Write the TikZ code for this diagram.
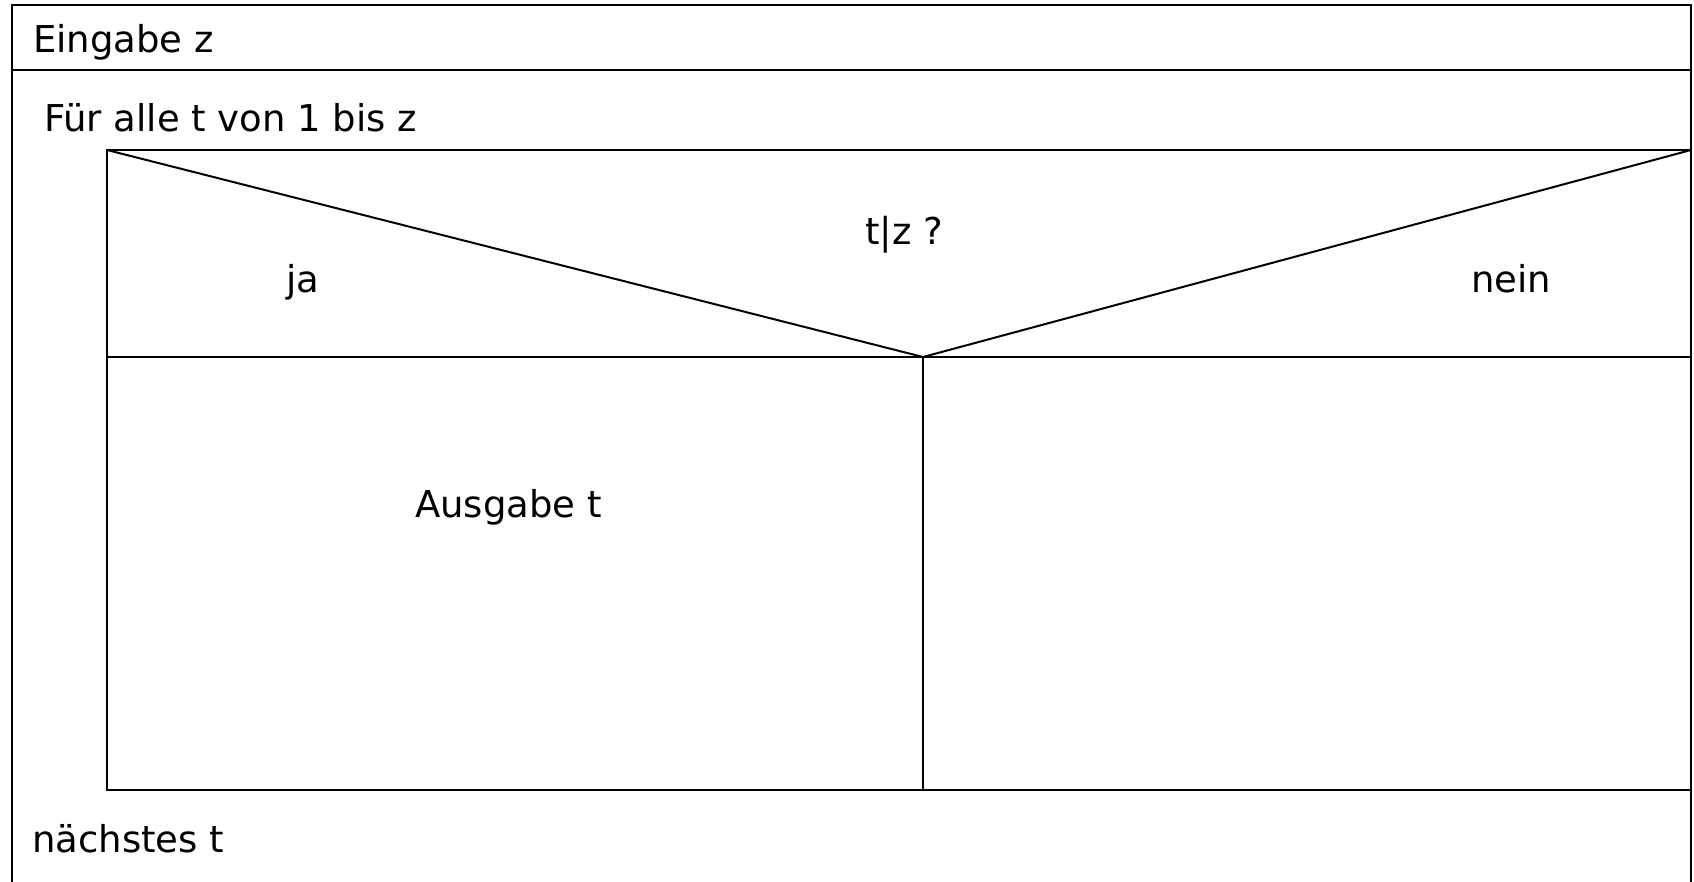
\documentclass[tikz,border=0pt]{standalone}
\usepackage{fontspec}
\setmainfont{DejaVu Sans}
\begin{document}
\begin{tikzpicture}[x=1pt,y=-1pt,
  ln/.style={line width=2pt,black},
  lbl/.style={anchor=base west,inner sep=0pt,font=\fontsize{37}{41}\selectfont}]
\useasboundingbox (0,0) rectangle (1694,882);
\fill[white] (0,0) rectangle (1694,882);
% outer structure
\draw[ln] (12,882) -- (12,5) -- (1691,5) -- (1691,882);
\draw[ln] (12,70) -- (1691,70);
% inner loop body / decision block
\draw[ln] (107,150) rectangle (1691,790);
\coordinate (apex) at (923,357);
\draw[ln] (107,150) -- (apex) -- (1691,150);
\draw[ln] (107,357) -- (1691,357);
\draw[ln] (apex) -- (923,790);
% texts
\node[lbl] (eingabe) at (33,53) {Eingabe z};
\node[lbl] (fuer) at (44,132) {Für alle t von 1 bis z};
\node[lbl] (cond) at (865,245) {t|z ?};
\node[lbl] (ja) at (286,293) {ja};
\node[lbl] (nein) at (1471,293) {nein};
\node[lbl] (ausgabe) at (415,517) {Ausgabe t};
\node[lbl] (naechst) at (32,852) {nächstes t};
\end{tikzpicture}
\end{document}
